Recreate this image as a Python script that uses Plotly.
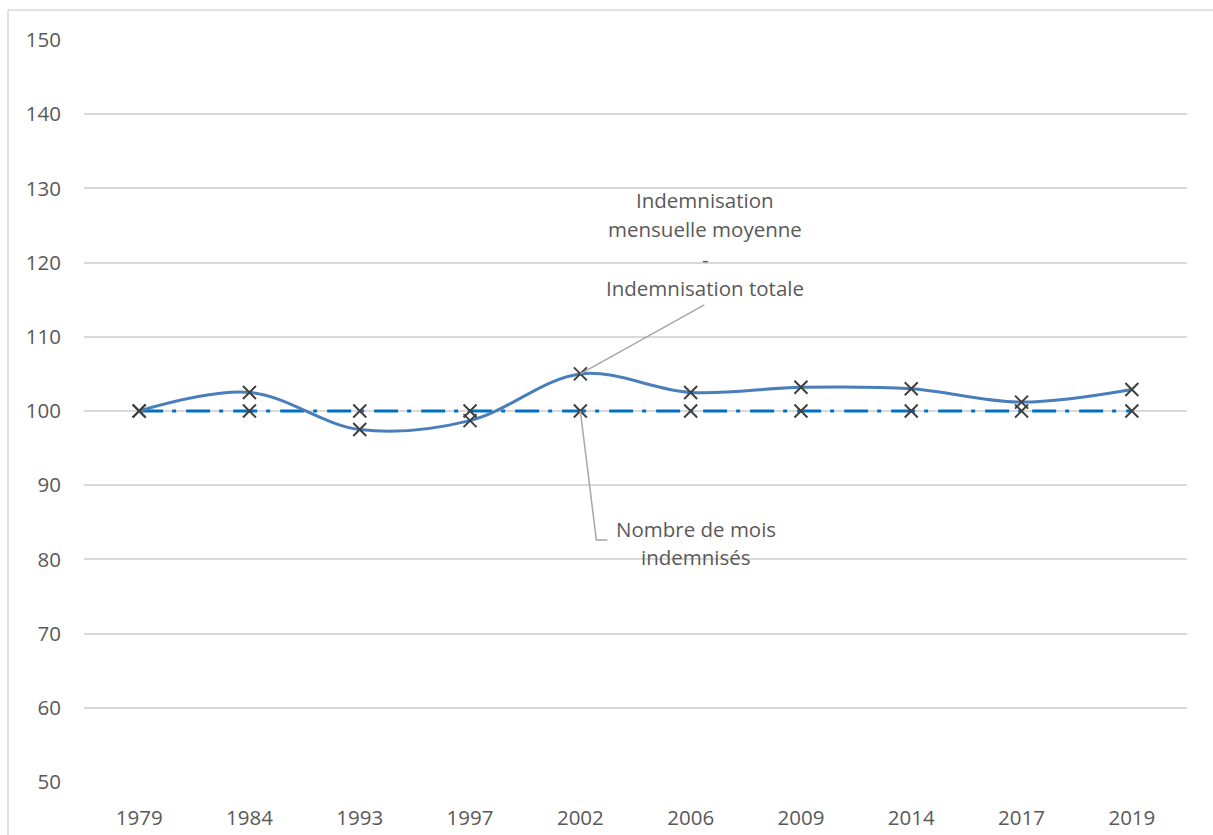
import plotly.graph_objects as go

# Index values (base 100 in 1979)
years = ["1979", "1984", "1993", "1997", "2002", "2006", "2009", "2014", "2017", "2019"]
indemnisation_mensuelle = [100, 102.5, 97.5, 98.7, 105.0, 102.5, 103.2, 103.0, 101.2, 102.9]
nombre_mois = [100, 100, 100, 100, 100, 100, 100, 100, 100, 100]
y_ticks = [50, 60, 70, 80, 90, 100, 110, 120, 130, 140, 150]

FONT = "Open Sans"
FS = 20.5
TXT = "#595959"
GRID = "#D9D9D9"

fig = go.Figure()

# Lines first
fig.add_trace(go.Scatter(
    x=years, y=nombre_mois, mode="lines",
    line=dict(color="#0070C0", width=3, dash="24px,9px,4px,10px"),
    hoverinfo="skip", showlegend=False))
fig.add_trace(go.Scatter(
    x=years, y=indemnisation_mensuelle, mode="lines",
    line=dict(color="#4A7EBB", width=3, shape="spline", smoothing=1.0),
    hoverinfo="skip", showlegend=False))

# Cross markers on top
for series in (nombre_mois, indemnisation_mensuelle):
    fig.add_trace(go.Scatter(
        x=years, y=series, mode="markers",
        marker=dict(symbol="x-thin", size=13, line=dict(color="#404040", width=2)),
        showlegend=False))

# Leader lines anchored on the 2002 points
anchor = 4  # category index of 2002
fig.add_shape(type="line", xref="x", yref="y",
              xsizemode="pixel", ysizemode="pixel",
              xanchor=anchor, yanchor=indemnisation_mensuelle[anchor],
              x0=0, y0=0, x1=124, y1=69,
              line=dict(color="#A6A6A6", width=1.5))
fig.add_shape(type="path", xref="x", yref="y",
              xsizemode="pixel", ysizemode="pixel",
              xanchor=anchor, yanchor=nombre_mois[anchor],
              path="M0,0 L16,-129 L27,-129",
              line=dict(color="#A6A6A6", width=1.5))

label_top = ["Indemnisation", "mensuelle moyenne", "-", "Indemnisation totale"]
label_bottom = ["Nombre de mois", "indemnisés"]

for i, t in enumerate(label_top):
    fig.add_annotation(x=anchor, y=indemnisation_mensuelle[anchor], text=t,
                       showarrow=False, xshift=125, yshift=174 - 29.3 * i,
                       font=dict(family=FONT, size=FS, color=TXT))
for i, t in enumerate(label_bottom):
    fig.add_annotation(x=anchor, y=nombre_mois[anchor], text=t,
                       showarrow=False, xshift=116, yshift=-118 - 28 * i,
                       font=dict(family=FONT, size=FS, color=TXT))

# Chart frame (top and left edges)
W, H = 1213, 835
ml, mr, mt, mb = 84, 26, 40, 53
pw, ph = W - ml - mr, H - mt - mb
fx = (8 - ml) / pw
fy_top = (H - mb - 10) / ph
fy_bot = (H - mb - H - 5) / ph
fig.add_shape(type="line", xref="paper", yref="paper", x0=fx, x1=1.03, y0=fy_top, y1=fy_top,
              line=dict(color=GRID, width=1.5), layer="below")
fig.add_shape(type="line", xref="paper", yref="paper", x0=fx, x1=fx, y0=fy_top, y1=fy_bot,
              line=dict(color=GRID, width=1.5), layer="below")

fig.update_layout(
    width=W, height=H,
    margin=dict(l=ml, r=mr, t=mt, b=mb, autoexpand=False),
    paper_bgcolor="white", plot_bgcolor="white",
    font=dict(family=FONT, size=FS, color=TXT),
    showlegend=False,
)
fig.update_xaxes(type="category", categoryorder="array", categoryarray=years,
                 range=[-0.5, len(years) - 0.5], automargin=False,
                 showgrid=False, zeroline=False, showline=False,
                 ticks="", ticklabelstandoff=21,
                 tickfont=dict(family=FONT, size=FS, color=TXT))
fig.update_yaxes(range=[50, 150], tickvals=y_ticks, automargin=False,
                 showgrid=True, gridcolor=GRID, gridwidth=1.5,
                 zeroline=False, showline=False, ticks="", ticklabelstandoff=22,
                 tickfont=dict(family=FONT, size=FS, color=TXT))

fig.write_html("out.html")
